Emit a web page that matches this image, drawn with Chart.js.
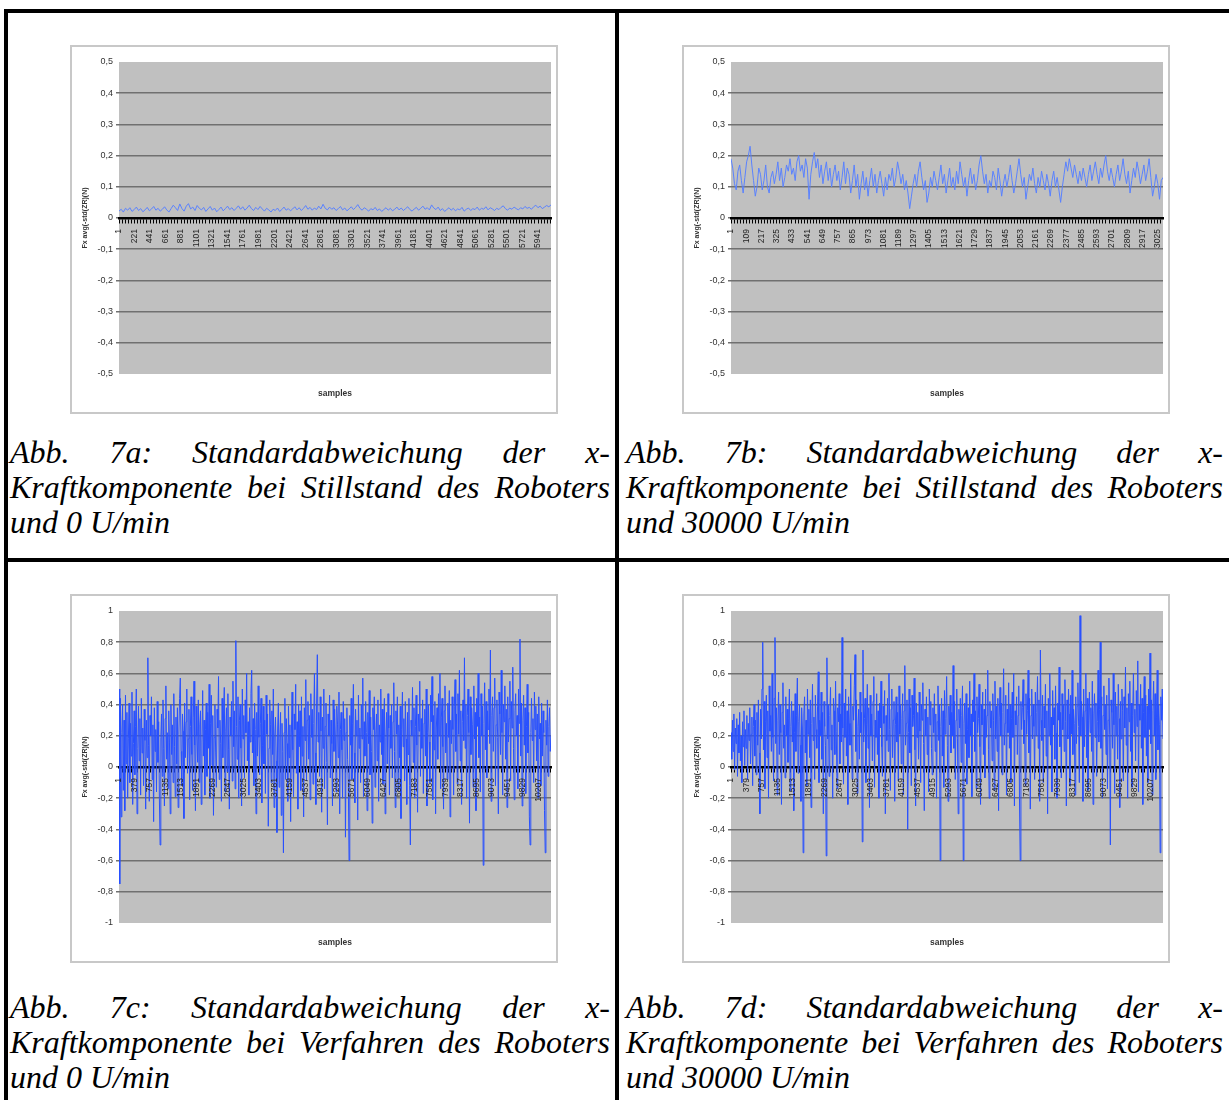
<!DOCTYPE html>
<html><head><meta charset="utf-8">
<script src="https://cdn.jsdelivr.net/npm/chart.js@4"></script>
<style>
html,body{margin:0;padding:0;background:#fff;}
body{width:1229px;height:1100px;position:relative;overflow:hidden;}
.line{position:absolute;background:#000;}
.frame{position:absolute;border:2px solid #c8c8c8;background:#fff;}
.frame canvas{display:block;}
.cap{position:absolute;font-family:"Liberation Serif","Times New Roman",serif;font-style:italic;font-size:32px;line-height:35px;color:#000;}
.cap div{text-align:justify;text-align-last:justify;}
.cap div.last{text-align:left;text-align-last:left;}
</style></head>
<body>
<div class="line" style="left:4px;top:9px;width:1225px;height:4px"></div>
<div class="line" style="left:4px;top:9px;width:4px;height:1091px"></div>
<div class="line" style="left:615px;top:9px;width:4px;height:1091px"></div>
<div class="line" style="left:4px;top:558px;width:1225px;height:4px"></div>

<div class="frame" style="left:70px;top:45px"><canvas id="c7a" width="484" height="365"></canvas></div>
<div class="frame" style="left:682px;top:45px"><canvas id="c7b" width="484" height="365"></canvas></div>
<div class="frame" style="left:70px;top:594px"><canvas id="c7c" width="484" height="365"></canvas></div>
<div class="frame" style="left:682px;top:594px"><canvas id="c7d" width="484" height="365"></canvas></div>

<div class="cap" style="left:10px;top:435px;width:600px">
<div>Abb. 7a: Standardabweichung der x-</div>
<div>Kraftkomponente bei Stillstand des Roboters</div>
<div class="last">und 0 U/min</div>
</div>
<div class="cap" style="left:626px;top:435px;width:597px">
<div>Abb. 7b: Standardabweichung der x-</div>
<div>Kraftkomponente bei Stillstand des Roboters</div>
<div class="last">und 30000 U/min</div>
</div>
<div class="cap" style="left:10px;top:990px;width:600px">
<div>Abb. 7c: Standardabweichung der x-</div>
<div>Kraftkomponente bei Verfahren des Roboters</div>
<div class="last">und 0 U/min</div>
</div>
<div class="cap" style="left:626px;top:990px;width:597px">
<div>Abb. 7d: Standardabweichung der x-</div>
<div>Kraftkomponente bei Verfahren des Roboters</div>
<div class="last">und 30000 U/min</div>
</div>

<script>
// ---------- data ----------
const yTitle = 'Fx avg(-std(ZR)(N)';
const xTitle = 'samples';

const yTicksSmall = [-0.5,-0.4,-0.3,-0.2,-0.1,0,0.1,0.2,0.3,0.4,0.5];
const yTickLabelsSmall = ['-0,5','-0,4','-0,3','-0,2','-0,1','0','0,1','0,2','0,3','0,4','0,5'];
const yTicksLarge = [-1,-0.8,-0.6,-0.4,-0.2,0,0.2,0.4,0.6,0.8,1];
const yTickLabelsLarge = ['-1','-0,8','-0,6','-0,4','-0,2','0','0,2','0,4','0,6','0,8','1'];

const xLabels7a = [1,221,441,661,881,1101,1321,1541,1761,1981,2201,2421,2641,2861,3081,3301,3521,3741,3961,4181,4401,4621,4841,5061,5281,5501,5721,5941];
const xLabels7b = [1,109,217,325,433,541,649,757,865,973,1081,1189,1297,1405,1513,1621,1729,1837,1945,2053,2161,2269,2377,2485,2593,2701,2809,2917,3025];
const xLabels7c = [1,379,757,1135,1513,1891,2269,2647,3025,3403,3781,4159,4537,4915,5293,5671,6049,6427,6805,7183,7561,7939,8317,8695,9073,9451,9829,10207];
const xLabels7d = [1,379,757,1135,1513,1891,2269,2647,3025,3403,3781,4159,4537,4915,5293,5671,6049,6427,6805,7183,7561,7939,8317,8695,9073,9451,9829,10207];

const samples7a = 6125;
const samples7b = 3062;
const samples7c = 10510;
const samples7d = 10510;

const values7a = [
0.022,0.028,0.019,0.031,0.025,0.033,0.021,0.027,0.035,0.024,
0.030,0.020,0.026,0.034,0.023,0.029,0.037,0.025,0.031,0.022,
0.028,0.036,0.026,0.019,0.030,0.041,0.033,0.024,0.045,0.030,
0.022,0.038,0.046,0.029,0.035,0.024,0.040,0.031,0.026,0.034,
0.021,0.029,0.037,0.025,0.032,0.020,0.027,0.035,0.023,0.030,
0.038,0.027,0.033,0.024,0.031,0.039,0.028,0.036,0.025,0.032,
0.041,0.030,0.024,0.034,0.027,0.037,0.029,0.022,0.031,0.026,
0.019,0.028,0.024,0.032,0.021,0.027,0.035,0.025,0.030,0.023,
0.029,0.036,0.026,0.033,0.024,0.031,0.040,0.028,0.034,0.025,
0.032,0.027,0.038,0.029,0.044,0.031,0.026,0.035,0.028,0.033,
0.024,0.030,0.037,0.026,0.032,0.023,0.029,0.036,0.027,0.034,
0.043,0.031,0.025,0.033,0.028,0.022,0.030,0.026,0.034,0.024,
0.029,0.021,0.027,0.033,0.025,0.031,0.023,0.028,0.035,0.026,
0.032,0.024,0.030,0.036,0.027,0.022,0.029,0.034,0.025,0.031,
0.038,0.028,0.033,0.026,0.042,0.032,0.027,0.035,0.024,0.030,
0.021,0.027,0.033,0.025,0.031,0.023,0.029,0.026,0.034,0.022,
0.028,0.032,0.024,0.030,0.027,0.035,0.025,0.031,0.028,0.036,
0.026,0.033,0.029,0.024,0.031,0.027,0.034,0.039,0.030,0.025,
0.032,0.028,0.035,0.030,0.026,0.033,0.029,0.037,0.031,0.034,
0.028,0.036,0.041,0.033,0.038,0.030,0.035,0.040,0.036,0.042];

const values7b = [
0.19,0.16,0.11,0.09,0.15,0.17,0.12,0.08,0.13,0.18,0.2,0.23,0.17,0.12,0.07,0.1,0.16,0.14,0.09,0.12,
0.17,0.1,0.08,0.13,0.15,0.11,0.14,0.18,0.12,0.16,0.1,0.13,0.17,0.15,0.19,0.14,0.16,0.12,0.18,0.2,
0.15,0.17,0.13,0.19,0.16,0.06,0.14,0.18,0.21,0.16,0.19,0.13,0.17,0.11,0.15,0.18,0.12,0.16,0.1,0.14,
0.17,0.12,0.15,0.09,0.13,0.18,0.11,0.16,0.14,0.08,0.12,0.17,0.1,0.14,0.06,0.11,0.15,0.09,0.13,0.07,
0.12,0.16,0.1,0.14,0.08,0.12,0.15,0.11,0.07,0.13,0.09,0.14,0.12,0.16,0.1,0.13,0.18,0.15,0.11,0.14,
0.09,0.12,0.08,0.03,0.07,0.11,0.14,0.1,0.15,0.18,0.13,0.09,0.12,0.05,0.08,0.13,0.1,0.15,0.12,0.09,
0.13,0.17,0.11,0.14,0.08,0.12,0.16,0.1,0.13,0.09,0.15,0.11,0.18,0.14,0.1,0.13,0.07,0.12,0.16,0.11,
0.14,0.09,0.12,0.17,0.2,0.15,0.11,0.14,0.08,0.12,0.1,0.15,0.13,0.09,0.16,0.12,0.07,0.11,0.14,0.1,
0.13,0.17,0.12,0.08,0.11,0.15,0.19,0.14,0.1,0.13,0.06,0.1,0.14,0.12,0.16,0.11,0.08,0.13,0.1,0.15,
0.12,0.09,0.14,0.11,0.07,0.12,0.15,0.1,0.13,0.09,0.05,0.1,0.14,0.18,0.15,0.19,0.16,0.13,0.17,0.14,
0.11,0.15,0.12,0.16,0.13,0.1,0.14,0.17,0.12,0.15,0.18,0.14,0.11,0.16,0.13,0.17,0.2,0.15,0.12,0.16,
0.13,0.1,0.14,0.17,0.12,0.15,0.19,0.14,0.11,0.15,0.08,0.12,0.16,0.13,0.18,0.15,0.11,0.14,0.17,0.12,
0.15,0.19,0.13,0.07,0.1,0.14,0.11,0.06,0.12,0.13];

const values7c = [
0.5,-0.75,0.44,-0.32,0.22,0.4,-0.15,0.3,-0.28,0.46,0.02,0.35,-0.2,0.18,0.41,-0.1,0.28,0.07,0.48,-0.24,
0.15,0.36,-0.05,0.26,0.5,-0.3,0.12,0.39,0.04,0.31,-0.18,0.44,0.09,0.25,-0.12,0.37,0.17,-0.27,0.3,0.06,
0.7,0.14,-0.22,0.33,0.2,0.45,-0.08,0.27,-0.35,0.38,0.1,0.24,-0.16,0.42,0.03,0.29,-0.2,-0.5,0.19,0.34,
-0.06,0.43,0.12,-0.25,0.31,0.52,0.05,0.22,-0.14,0.36,0.16,-0.3,0.4,0.08,0.27,-0.1,0.47,0.13,-0.19,0.32,
0.02,0.38,-0.26,0.21,0.44,0.57,0.1,-0.12,0.34,0.23,-0.33,0.41,0.06,0.29,0.5,-0.04,0.18,0.37,-0.21,0.26,
0.45,0.08,-0.15,0.32,0.55,0.14,-0.28,0.39,0.2,0.03,0.43,-0.1,0.27,0.36,-0.24,0.16,0.49,0.07,0.3,-0.18,
0.24,0.41,-0.06,0.35,0.12,0.53,-0.2,0.28,0.46,0.01,0.33,-0.31,0.19,0.4,0.09,-0.13,0.37,0.25,0.58,-0.08,
0.3,0.15,-0.22,0.44,0.06,0.34,0.51,-0.16,0.23,0.38,-0.03,0.47,0.11,-0.27,0.32,0.2,0.42,-0.09,0.55,0.13,
0.36,-0.14,0.81,0.26,0.05,0.45,-0.2,0.3,0.4,0.12,-0.25,0.5,0.18,0.33,-0.07,0.43,0.22,0.6,0.04,0.29,
-0.18,0.38,0.16,0.47,0.62,0.09,0.31,-0.12,0.41,0.24,-0.3,0.35,0.07,0.52,0.19,-0.05,0.28,0.44,-0.23,0.14,
0.39,0.02,0.3,-0.17,0.46,0.21,0.34,-0.38,0.12,0.43,0.27,-0.1,0.36,0.08,0.5,-0.26,0.2,0.32,0.04,-0.42,
0.25,0.41,-0.13,0.18,0.35,-0.31,0.28,0.1,-0.55,0.22,0.44,-0.08,0.31,0.15,-0.22,0.39,0.06,0.27,-0.35,0.2,
0.48,0.11,-0.19,0.34,0.24,0.53,-0.04,0.29,-0.27,0.4,0.13,0.36,-0.15,0.45,0.07,0.26,-0.32,0.38,0.17,0.56,
-0.09,0.3,0.42,0.05,0.33,-0.21,0.47,0.19,0.37,-0.11,0.28,0.6,0.09,-0.24,0.4,0.72,0.16,0.35,-0.06,0.45,
0.23,-0.29,0.32,0.12,0.5,-0.14,0.26,0.41,0.03,-0.37,0.34,0.2,0.46,-0.07,0.3,0.15,-0.25,0.43,0.1,0.37,
0.2,-0.16,0.39,0.27,0.06,0.48,-0.3,0.24,0.35,0.11,-0.2,0.42,0.17,0.31,-0.45,0.22,0.38,0.05,-0.12,-0.6,
0.33,0.14,0.44,-0.08,0.28,0.53,0.09,-0.23,0.37,0.2,0.3,-0.34,0.46,0.12,0.25,-0.1,0.4,0.18,0.57,-0.19,
0.29,0.07,0.42,0.22,-0.28,0.35,0.15,0.49,-0.05,0.32,0.1,-0.36,0.38,0.24,0.45,-0.13,0.21,0.34,0.04,0.43,
-0.22,0.27,0.16,0.5,0.08,0.37,-0.11,0.3,0.44,-0.3,0.19,0.35,0.02,0.47,0.25,-0.18,0.33,0.12,0.4,-0.07,
0.29,0.54,0.1,-0.26,0.36,0.21,0.45,-0.15,0.27,0.06,0.39,-0.33,0.24,0.48,0.13,0.31,-0.09,0.42,0.18,-0.24,
0.35,0.08,0.44,-0.12,-0.5,0.3,0.2,0.51,0.03,0.38,-0.2,0.26,0.46,0.14,-0.29,0.34,0.23,0.55,-0.06,0.31,
0.12,0.43,-0.17,0.28,0.37,0.07,0.5,-0.25,0.22,0.4,0.16,-0.1,0.46,0.29,0.58,-0.21,0.33,0.11,0.42,-0.3,
0.25,0.38,0.05,0.47,0.2,0.6,-0.14,0.32,0.44,0.13,-0.27,0.36,0.52,0.09,0.28,-0.08,0.41,0.19,0.49,-0.32,
0.3,0.15,0.45,0.24,-0.18,0.39,0.56,0.1,0.34,-0.11,0.47,0.21,0.62,0.04,0.36,-0.24,0.29,0.43,0.17,0.7,
0.12,0.4,-0.2,0.33,0.5,0.22,-0.36,0.45,0.08,0.38,0.27,-0.13,0.52,0.18,0.35,-0.28,0.44,0.26,0.6,0.06,
0.32,-0.16,0.47,0.2,0.39,-0.63,0.28,0.54,0.11,0.42,-0.07,0.36,0.24,0.5,0.15,0.75,-0.22,0.33,0.45,0.1,
0.38,0.57,-0.12,0.27,0.43,0.19,-0.3,0.48,0.34,0.08,0.62,0.22,-0.18,0.4,0.29,0.52,0.05,0.37,-0.26,0.45,
0.16,0.31,0.55,-0.09,0.42,0.25,0.64,0.12,-0.21,0.36,0.47,0.2,0.33,-0.14,0.5,0.28,0.82,0.07,0.41,-0.25,
0.3,0.46,0.14,0.38,-0.17,0.26,0.53,0.09,0.35,-0.32,-0.5,0.22,0.44,0.17,0.31,-0.1,0.48,0.24,0.39,0.04,
0.34,-0.2,0.45,0.18,0.28,-0.12,0.41,0.07,0.36,0.22,-0.28,-0.55,0.3,0.14,0.43,-0.06,0.26,0.38,0.1,0.2];

const values7d = [
0.22,0.05,0.3,0.1,0.34,-0.02,0.25,0.15,0.31,-0.06,0.27,0.09,0.35,0.04,0.2,-0.1,0.29,0.13,0.36,0.01,
0.24,0.12,0.33,-0.08,0.28,0.17,0.38,0.02,0.21,0.32,-0.12,0.26,0.4,0.07,0.3,-0.05,0.35,0.14,0.43,0.09,
-0.3,0.37,0.18,0.5,0.8,0.11,0.42,-0.14,0.29,0.46,0.06,0.36,-0.2,0.52,0.23,0.33,0.1,0.6,0.19,-0.09,
0.44,0.83,0.15,0.38,-0.18,0.3,0.48,0.08,0.4,0.22,-0.24,0.35,0.54,0.12,0.27,-0.07,0.45,0.2,0.37,0.03,
0.31,0.5,-0.15,0.26,0.42,0.16,0.36,-0.28,0.22,0.47,0.1,0.33,0.57,-0.04,0.29,0.4,0.14,-0.22,0.38,0.25,
-0.55,0.34,0.45,0.09,0.3,-0.12,0.5,0.21,0.37,0.06,0.43,-0.26,0.28,0.53,0.17,0.32,-0.08,0.46,0.24,0.12,
0.39,0.61,-0.1,0.3,0.2,0.48,0.05,0.35,-0.3,0.42,0.26,0.14,-0.57,0.7,0.18,0.4,-0.06,0.33,0.51,0.11,
0.27,-0.2,0.44,0.36,0.08,0.55,0.23,-0.14,0.38,0.29,0.47,0.02,0.34,0.16,0.83,0.25,-0.11,0.41,0.19,0.5,
0.07,0.36,-0.24,0.45,0.28,0.14,0.6,0.2,-0.08,0.39,0.3,0.52,0.72,0.1,0.43,-0.17,0.26,0.37,0.05,0.48,
0.22,0.35,-0.48,0.75,0.16,0.31,0.44,-0.1,0.27,0.53,0.12,0.38,-0.26,0.46,0.2,0.34,0.04,0.42,0.58,-0.13,
0.3,0.19,0.47,0.08,0.36,-0.2,0.41,0.25,0.55,0.13,-0.06,0.39,0.28,0.49,-0.3,0.33,0.17,0.44,0.1,0.6,
0.24,-0.15,0.37,0.5,0.06,0.3,0.42,-0.22,0.27,0.45,0.16,0.35,-0.09,0.52,0.21,0.4,0.02,0.31,0.47,-0.18,
0.36,0.65,0.14,0.28,0.43,-0.4,0.22,0.5,0.09,0.38,-0.12,0.46,0.26,0.33,0.57,0.11,-0.25,0.41,0.19,0.35,
0.05,0.48,0.23,-0.1,0.4,0.3,0.54,0.15,-0.28,0.37,0.2,0.45,0.08,0.32,-0.16,0.5,0.27,0.42,0.12,-0.05,
0.38,0.22,0.47,0.1,0.34,-0.2,0.29,0.52,0.17,0.4,-0.6,0.26,0.44,0.07,0.36,-0.13,0.49,0.21,0.31,0.58,
0.14,-0.22,0.39,0.27,0.46,0.09,0.35,0.2,0.65,0.12,0.42,-0.08,0.3,0.5,0.18,-0.3,0.37,0.25,0.44,0.03,
0.33,0.52,-0.6,0.28,0.41,0.15,0.47,-0.11,0.24,0.38,0.06,0.55,0.2,0.34,-0.19,0.43,0.29,0.6,0.1,0.36,
-0.14,0.45,0.22,0.31,0.53,0.13,-0.24,0.4,0.27,0.48,0.08,0.37,-0.07,0.5,0.19,0.33,0.62,0.11,-0.2,0.42,
0.25,0.36,0.04,0.47,0.3,-0.15,0.55,0.18,0.39,0.1,0.44,-0.28,0.32,0.51,0.2,0.41,-0.05,0.35,0.63,0.14,
0.28,0.46,-0.18,0.37,0.22,0.54,0.12,0.4,-0.1,0.31,0.48,0.19,0.6,-0.25,0.36,0.27,0.45,0.08,0.33,0.52,
-0.2,-0.6,0.42,0.24,0.38,0.56,0.15,0.3,-0.12,0.47,0.21,0.36,0.62,0.09,0.44,-0.27,0.33,0.5,0.18,0.4,
0.26,-0.08,0.48,0.2,0.35,0.58,0.12,0.43,-0.22,0.75,0.3,0.17,0.46,-0.1,0.39,0.25,0.53,0.07,0.36,-0.3,
0.44,0.2,0.6,0.14,0.32,-0.16,0.49,0.27,0.38,0.05,0.52,0.22,-0.2,0.41,0.3,0.64,0.13,0.35,-0.07,0.47,
0.24,0.4,0.1,0.56,0.29,-0.25,0.43,0.18,0.5,0.34,-0.12,0.46,0.21,0.62,0.08,0.37,0.28,-0.18,0.45,0.15,
0.39,0.54,0.26,-0.1,0.97,0.2,0.42,0.32,-0.22,0.5,0.13,0.36,0.6,0.06,0.44,-0.15,0.3,0.48,0.22,0.38,
0.1,0.55,-0.24,0.34,0.47,0.19,0.41,-0.06,0.29,0.62,0.16,0.37,0.8,0.12,0.45,-0.2,0.33,0.52,0.24,0.4,
0.08,0.46,-0.14,0.3,0.57,0.21,-0.5,0.43,0.35,0.12,0.6,0.27,-0.17,0.48,0.2,0.39,0.05,0.53,0.31,-0.26,
0.42,0.18,0.5,0.36,-0.09,0.45,0.25,0.64,0.14,0.38,-0.2,0.47,0.29,0.55,0.1,0.41,-0.13,0.33,0.6,0.22,
0.37,0.04,0.49,0.26,0.68,-0.16,0.4,0.3,0.53,0.12,0.44,-0.24,0.35,0.58,0.19,0.46,0.07,0.39,-0.1,0.5,
0.24,0.73,0.15,0.43,-0.18,0.36,0.55,0.2,0.47,-0.08,0.32,0.62,0.11,0.4,0.27,-0.55,0.45,0.3,0.5,0.18];

// ---------- drawing ----------
const FONT = 'Liberation Sans, Arial, sans-serif';

const bgPlugin = {
  id: 'plotBg',
  beforeDraw(chart) {
    const {ctx, chartArea: a, width, height} = chart;
    ctx.save();
    ctx.fillStyle = '#ffffff';
    ctx.fillRect(0, 0, width, height);
    ctx.fillStyle = '#c0c0c0';
    ctx.fillRect(a.left, a.top, a.right - a.left, a.bottom - a.top);
    ctx.restore();
  }
};

function makeChart(id, values, samples, xLabels, yTicks, yLabels, color, lw) {
  const step = xLabels[1] - xLabels[0];
  const minorPerLabel = 5;
  const pts = values.map((v, i) => ({x: 1 + i * (samples - 1) / (values.length - 1), y: v}));
  const yMin = yTicks[0], yMax = yTicks[yTicks.length - 1];
  new Chart(document.getElementById(id), {
    type: 'line',
    data: {
      datasets: [{
        data: pts, xAxisID: 'x', yAxisID: 'y',
        borderColor: color, borderWidth: lw, pointRadius: 0, tension: 0,
        borderJoinStyle: 'round', fill: false
      }]
    },
    options: {
      responsive: false, animation: false, devicePixelRatio: 1,
      layout: {padding: {left: 0, right: 5, top: 15, bottom: 0}},
      plugins: {legend: {display: false}, tooltip: {enabled: false}, title: {display: false}},
      scales: {
        y: {
          type: 'linear', position: 'left', min: yMin, max: yMax,
          afterBuildTicks: s => { s.ticks = yTicks.map(v => ({value: v})); },
          afterFit: s => { s.width = 47; },
          grid: {
            color: ctx => (ctx.tick && (ctx.tick.value === yMin || ctx.tick.value === yMax)) ? 'rgba(0,0,0,0)' : '#707070',
            lineWidth: 1.5, drawTicks: true, tickLength: 3
          },
          border: {display: false},
          ticks: {
            callback: (v, i) => yLabels[i],
            font: {family: FONT, size: 9}, color: '#333', padding: 3
          },
          title: {
            display: true, text: yTitle, color: '#333',
            font: {family: FONT, size: 7, weight: 'bold'}, padding: {top: 9, bottom: 0}
          }
        },
        x: {
          type: 'linear', min: 1, max: samples, position: {y: 0},
          afterBuildTicks: s => {
            const t = [];
            xLabels.forEach((lab) => {
              for (let m = 0; m < minorPerLabel; m++) {
                const v = lab + m * step / minorPerLabel;
                if (v <= samples) t.push({value: v, lab: m === 0 ? String(lab) : ''});
              }
            });
            s.ticks = t;
          },
          afterFit: s => { s.paddingLeft = 0; s.paddingRight = 0; },
          ticks: {
            autoSkip: false, minRotation: 90, maxRotation: 90, z: 1,
            callback: (v, i, ticks) => ticks[i].lab,
            font: {family: FONT, size: 8.5}, color: '#222', padding: 7
          },
          grid: {drawOnChartArea: false, drawTicks: true, tickLength: 4, color: '#000', lineWidth: 1},
          border: {display: true, color: '#000', width: 2.5}
        },
        x2: {
          type: 'linear', position: 'bottom', min: 0, max: 1,
          afterFit: s => { s.height = 38; s.paddingLeft = 0; s.paddingRight = 0; },
          grid: {display: false}, border: {display: false}, ticks: {display: false},
          title: {
            display: true, text: xTitle, color: '#333',
            font: {family: FONT, size: 8.5, weight: 'bold'}, padding: {top: 0, bottom: 13}
          }
        }
      }
    },
    plugins: [bgPlugin]
  });
}

makeChart('c7a', values7a, samples7a, xLabels7a, yTicksSmall, yTickLabelsSmall, '#5a82ff', 1);
makeChart('c7b', values7b, samples7b, xLabels7b, yTicksSmall, yTickLabelsSmall, '#5a82ff', 1);
makeChart('c7c', values7c, samples7c, xLabels7c, yTicksLarge, yTickLabelsLarge, 'rgb(40,80,255)', 1);
makeChart('c7d', values7d, samples7d, xLabels7d, yTicksLarge, yTickLabelsLarge, 'rgb(40,80,255)', 1);
</script>
</body></html>
